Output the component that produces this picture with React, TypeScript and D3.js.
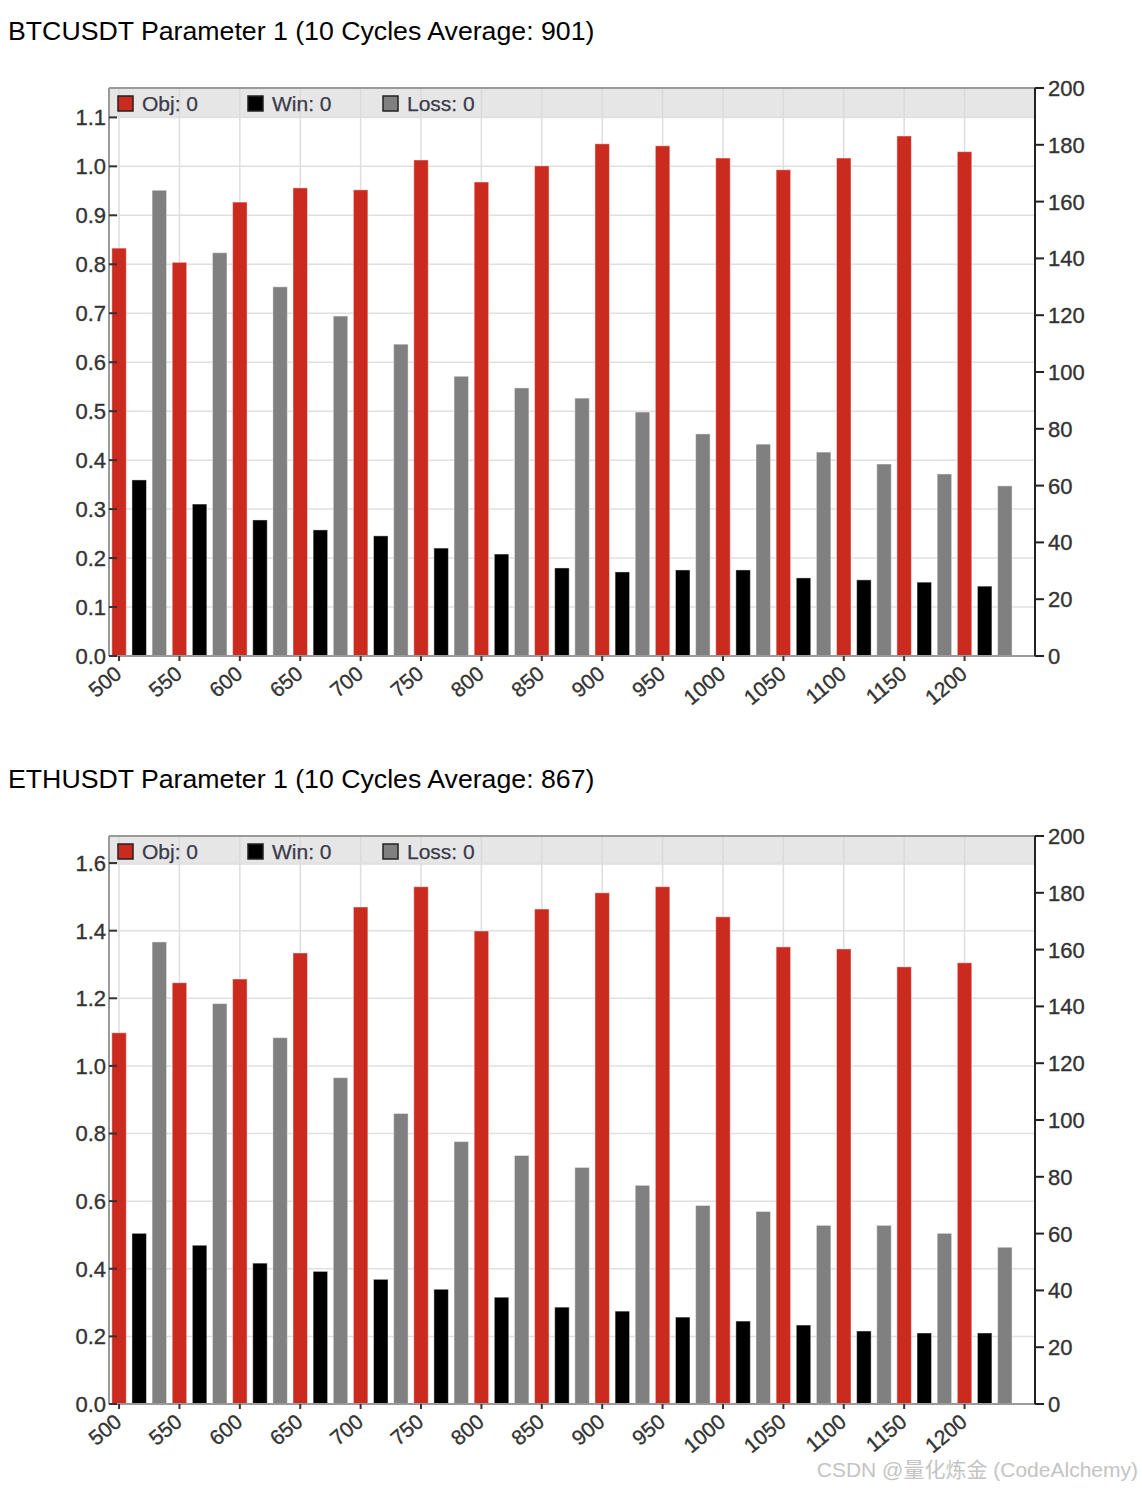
import React from 'react';
import * as d3 from 'd3';

const categories = [500, 550, 600, 650, 700, 750, 800, 850, 900, 950, 1000, 1050, 1100, 1150, 1200];

const btcObj = [0.833, 0.804, 0.927, 0.956, 0.952, 1.013, 0.968, 1.001, 1.046, 1.042, 1.017, 0.993, 1.017, 1.062, 1.03];
const btcWin = [62, 53.5, 47.9, 44.4, 42.3, 38, 35.9, 31, 29.6, 30.3, 30.3, 27.5, 26.8, 26, 24.6];
const btcLoss = [164, 142, 130, 119.7, 109.8, 98.5, 94.4, 90.8, 85.9, 78.2, 74.6, 71.8, 67.6, 64.1, 59.9];

const ethObj = [1.098, 1.246, 1.257, 1.334, 1.47, 1.53, 1.399, 1.464, 1.512, 1.53, 1.441, 1.352, 1.346, 1.293, 1.305];
const ethWin = [60.1, 55.9, 49.6, 46.7, 43.9, 40.4, 37.6, 34.1, 32.7, 30.6, 29.2, 27.8, 25.7, 25, 25];
const ethLoss = [162.7, 141, 129, 114.9, 102.3, 92.4, 87.5, 83.3, 77, 69.9, 67.8, 62.9, 62.9, 60.1, 55.2];

const btcTitle = 'BTCUSDT Parameter 1 (10 Cycles Average: 901)';
const ethTitle = 'ETHUSDT Parameter 1 (10 Cycles Average: 867)';

const seriesKeys = ['obj', 'win', 'loss'];
const seriesColors = ['#cb2a1f', '#000000', '#808080'];
const legendLabels = ['Obj: 0', 'Win: 0', 'Loss: 0'];

const btcLeftTicks = [0, 0.1, 0.2, 0.3, 0.4, 0.5, 0.6, 0.7, 0.8, 0.9, 1.0, 1.1];
const ethLeftTicks = [0, 0.2, 0.4, 0.6, 0.8, 1.0, 1.2, 1.4, 1.6];
const rightTicks = [0, 20, 40, 60, 80, 100, 120, 140, 160, 180, 200];

const FONT = '"Liberation Sans", Arial, sans-serif';

type ChartProps = {
  title: string;
  obj: number[];
  win: number[];
  loss: number[];
  leftMax: number;
  leftTicks: number[];
  top: number;
};

function Chart({ title, obj, win, loss, leftMax, leftTicks, top }: ChartProps) {
  const left = 109;
  const right = 1035;
  const plotTop = top;
  const plotBottom = top + 568;
  const legendH = 29;

  const x0 = d3
    .scaleBand<number>()
    .domain(categories)
    .range([left, right])
    .paddingInner(0)
    .paddingOuter(1 / 6)
    .align(0);
  const x1 = d3
    .scaleBand<string>()
    .domain(seriesKeys)
    .range([0, x0.bandwidth()])
    .paddingInner(0.28)
    .paddingOuter(0.14);
  const yL = d3.scaleLinear().domain([0, leftMax]).range([plotBottom, plotTop]);
  const yR = d3.scaleLinear().domain([0, 200]).range([plotBottom, plotTop]);

  const tickX = (c: number) => (x0(c) as number) + (x1('obj') as number) + x1.bandwidth() / 2;

  const seriesData: { key: string; vals: number[]; y: d3.ScaleLinear<number, number> }[] = [
    { key: 'obj', vals: obj, y: yL },
    { key: 'win', vals: win, y: yR },
    { key: 'loss', vals: loss, y: yR },
  ];

  const fmt = d3.format('.1f');
  const legendX = [118, 248, 383];
  const labelStyle = { stroke: '#333', strokeWidth: 0.35 };

  return (
    <g>
      <text x={8} y={top - 48} fontFamily={FONT} fontSize={26.7} fill="#000">
        {title}
      </text>
      {/* legend band */}
      <rect x={left} y={plotTop} width={right - left} height={legendH} fill="#e6e6e6" />
      {/* vertical grid */}
      {categories.map((c) => (
        <line
          key={'vg' + c}
          x1={tickX(c)}
          x2={tickX(c)}
          y1={plotTop}
          y2={plotBottom}
          stroke="#d9d9d9"
          strokeWidth={1.5}
          opacity={0.85}
        />
      ))}
      {/* horizontal grid */}
      {leftTicks.map((t) => (
        <line
          key={'hg' + t}
          x1={left}
          x2={right}
          y1={yL(t)}
          y2={yL(t)}
          stroke="#e0e0e0"
          strokeWidth={1.5}
        />
      ))}
      {/* bars */}
      {seriesData.map((s, si) =>
        s.vals.map((v, i) => {
          const c = categories[i];
          const bx = (x0(c) as number) + (x1(s.key) as number);
          return (
            <rect
              key={s.key + i}
              x={bx}
              y={s.y(v)}
              width={x1.bandwidth()}
              height={plotBottom - s.y(v)}
              fill={seriesColors[si]}
              stroke="#ffffff"
              strokeOpacity={0.45}
              strokeWidth={1}
            />
          );
        })
      )}
      {/* legend */}
      {legendLabels.map((l, i) => (
        <g key={'lg' + i}>
          <rect
            x={legendX[i]}
            y={plotTop + 8}
            width={15}
            height={15}
            fill={seriesColors[i]}
            stroke="#222"
            strokeWidth={1.5}
          />
          <text
            x={legendX[i] + 24}
            y={plotTop + 23}
            fontFamily={FONT}
            fontSize={21}
            fill="#3a3a4a"
            {...{ stroke: '#3a3a4a', strokeWidth: 0.25 }}
          >
            {l}
          </text>
        </g>
      ))}
      {/* frame */}
      <line x1={left} x2={right} y1={plotTop} y2={plotTop} stroke="#9a9a9a" strokeWidth={2} />
      <line x1={left} x2={left} y1={plotTop} y2={plotBottom} stroke="#9a9a9a" strokeWidth={2} />
      <line x1={left} x2={right} y1={plotBottom} y2={plotBottom} stroke="#9a9a9a" strokeWidth={2} />
      {/* left axis ticks and labels */}
      {leftTicks.map((t) => (
        <g key={'lt' + t}>
          <line x1={left} x2={left + 8} y1={yL(t)} y2={yL(t)} stroke="#333" strokeWidth={2} />
          <text
            x={106}
            y={yL(t)}
            dy="0.36em"
            textAnchor="end"
            fontFamily={FONT}
            fontSize={22}
            fill="#333"
            {...labelStyle}
          >
            {fmt(t)}
          </text>
        </g>
      ))}
      {/* right axis */}
      <line x1={right} x2={right} y1={plotTop} y2={plotBottom} stroke="#222" strokeWidth={2} />
      {rightTicks.map((t) => (
        <g key={'rt' + t}>
          <line x1={right} x2={right + 9} y1={yR(t)} y2={yR(t)} stroke="#222" strokeWidth={2} />
          <text
            x={right + 13}
            y={yR(t)}
            dy="0.36em"
            textAnchor="start"
            fontFamily={FONT}
            fontSize={22}
            fill="#333"
            {...labelStyle}
          >
            {t}
          </text>
        </g>
      ))}
      {/* bottom axis ticks and labels */}
      {categories.map((c) => (
        <g key={'bt' + c}>
          <line
            x1={tickX(c)}
            x2={tickX(c)}
            y1={plotBottom}
            y2={plotBottom + 5}
            stroke="#333"
            strokeWidth={2}
          />
          <text
            transform={`translate(${tickX(c) + 4},${plotBottom + 20}) rotate(-40)`}
            textAnchor="end"
            fontFamily={FONT}
            fontSize={21}
            fill="#333"
            {...labelStyle}
          >
            {c}
          </text>
        </g>
      ))}
    </g>
  );
}

export default function App() {
  return (
    <div style={{ position: 'absolute', left: 0, top: 0 }}>
      <svg width={1142} height={1488} style={{ display: 'block', background: '#fff' }}>
        <Chart
          title={btcTitle}
          obj={btcObj}
          win={btcWin}
          loss={btcLoss}
          leftMax={1.16}
          leftTicks={btcLeftTicks}
          top={88}
        />
        <Chart
          title={ethTitle}
          obj={ethObj}
          win={ethWin}
          loss={ethLoss}
          leftMax={1.68}
          leftTicks={ethLeftTicks}
          top={836}
        />
        <text
          x={1138}
          y={1477}
          textAnchor="end"
          fontFamily={'"Liberation Sans", "Noto Sans CJK SC", sans-serif'}
          fontSize={21}
          fill="#c4c4c4"
        >
          CSDN @量化炼金 (CodeAlchemy)
        </text>
      </svg>
    </div>
  );
}
